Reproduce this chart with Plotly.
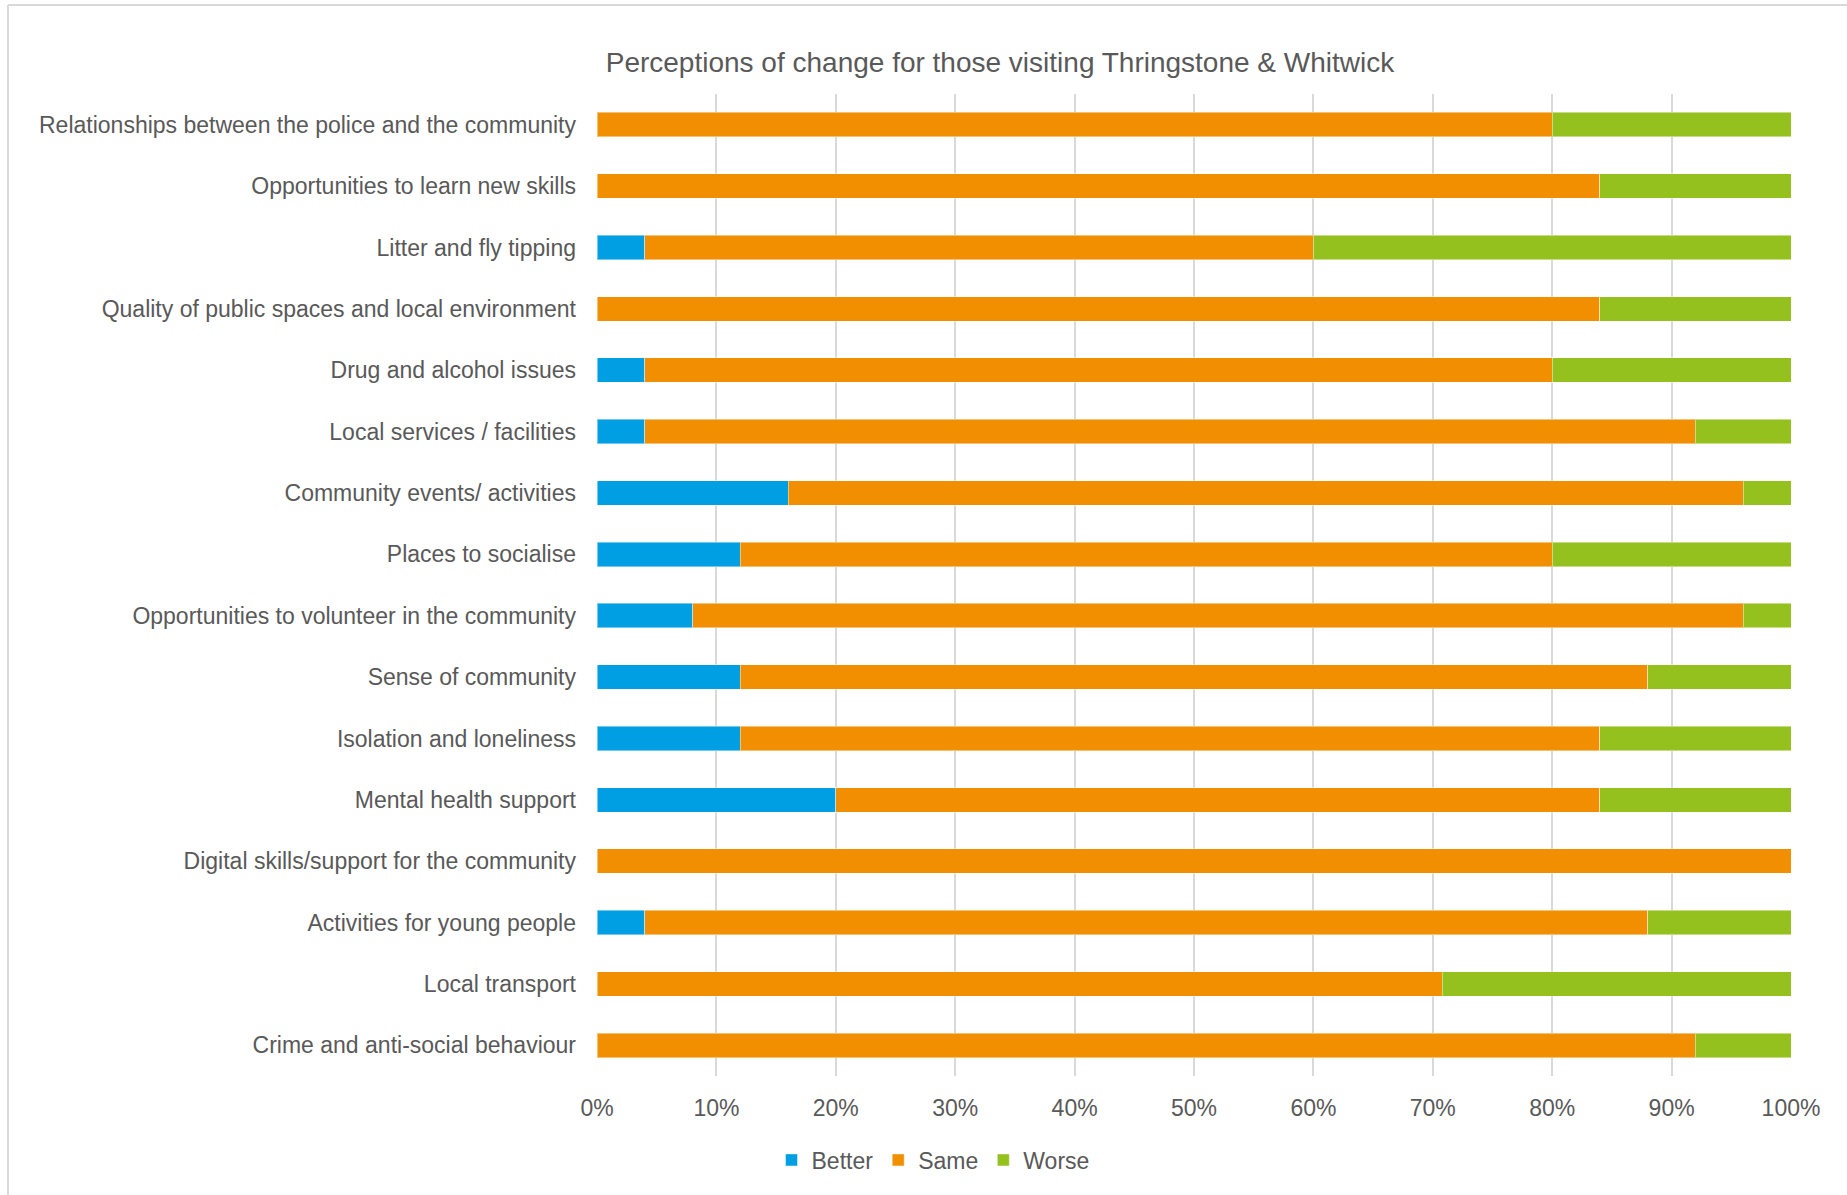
import plotly.graph_objects as go

# Survey items, top to bottom as they appear on the chart
categories = [
    "Relationships between the police and the community",
    "Opportunities to learn new skills",
    "Litter and fly tipping",
    "Quality of public spaces and local environment",
    "Drug and alcohol issues",
    "Local services / facilities",
    "Community events/ activities",
    "Places to socialise",
    "Opportunities to volunteer in the community",
    "Sense of community",
    "Isolation and loneliness",
    "Mental health support",
    "Digital skills/support for the community",
    "Activities for young people",
    "Local transport",
    "Crime and anti-social behaviour",
]

# Share of responses (%) per item
better = [0, 0, 4, 0, 4, 4, 16, 12, 8, 12, 12, 20, 0, 4, 0, 0]
same = [80, 84, 56, 84, 76, 88, 80, 68, 88, 76, 72, 64, 100, 84, 70.8, 92]
worse = [20, 16, 40, 16, 20, 8, 4, 20, 4, 12, 16, 16, 0, 12, 29.2, 8]

tick_vals = list(range(0, 101, 10))
tick_text = [f"{v}%" for v in tick_vals]

W, H = 1847, 1195
ML, MR, MT, MB = 597, 56, 94, 119
PW, PH = W - ML - MR, H - MT - MB

TEXT = "#595959"
FONT = "Liberation Sans"

series = [
    ("Better", better, "#009FE3"),
    ("Same", same, "#F18F00"),
    ("Worse", worse, "#95C11F"),
]

fig = go.Figure()
for name, vals, color in series:
    fig.add_trace(go.Bar(
        y=categories,
        x=vals,
        name=name,
        orientation="h",
        marker=dict(color=color, line=dict(color="rgba(255,255,255,0.45)", width=1)),
        hoverinfo="x+y+name",
    ))

# Light frame along the top and left edges of the chart area
def px_x(p):
    return (p - ML) / PW

def px_y(p):
    return 1 - (p - MT) / PH

frame = dict(type="line", xref="paper", yref="paper",
             line=dict(color="#D9D9D9", width=2), layer="below")
fig.add_shape(**frame, x0=px_x(8), x1=px_x(W + 5), y0=px_y(5), y1=px_y(5))
fig.add_shape(**frame, x0=px_x(8), x1=px_x(8), y0=px_y(5), y1=px_y(H + 5))

fig.update_layout(
    width=W,
    height=H,
    barmode="stack",
    bargap=0.6,
    paper_bgcolor="white",
    plot_bgcolor="white",
    margin=dict(l=ML, r=MR, t=MT, b=MB, autoexpand=False),
    font=dict(family=FONT, color=TEXT, size=23),
    title=dict(
        text="Perceptions of change for those visiting Thringstone & Whitwick",
        x=1000 / W, xref="container", xanchor="center",
        y=1 - 62 / H, yref="container", yanchor="middle",
        font=dict(family=FONT, size=28, color=TEXT),
    ),
    xaxis=dict(
        range=[0, 100],
        tickvals=tick_vals,
        ticktext=tick_text,
        showgrid=True,
        gridcolor="#D9D9D9",
        gridwidth=2,
        zeroline=False,
        showline=False,
        ticks="",
        ticklabelstandoff=16,
        tickfont=dict(size=23, color=TEXT),
        fixedrange=True,
    ),
    yaxis=dict(
        autorange="reversed",
        showgrid=False,
        zeroline=False,
        showline=False,
        ticks="",
        ticklabelstandoff=20,
        tickfont=dict(size=23, color=TEXT),
        fixedrange=True,
    ),
    legend=dict(
        orientation="h",
        x=px_x(933), xanchor="center",
        y=px_y(1160), yanchor="middle",
        traceorder="normal",
        font=dict(size=23, color=TEXT),
        itemwidth=30,
        itemclick=False,
    ),
    showlegend=True,
)

fig.write_html("out.html")
